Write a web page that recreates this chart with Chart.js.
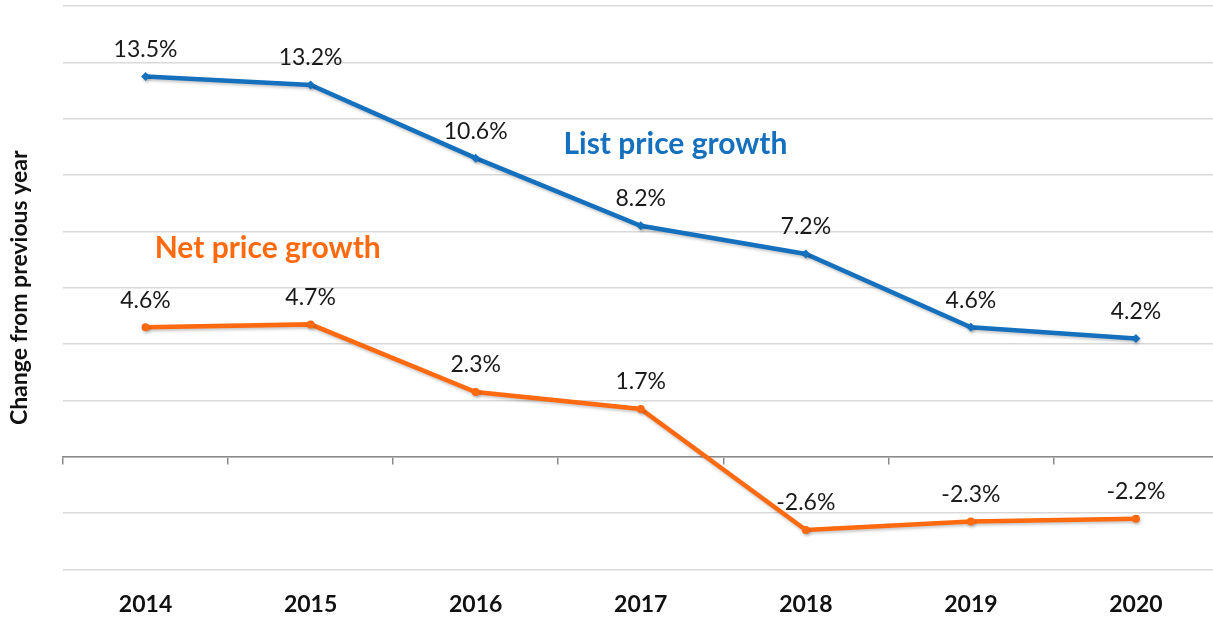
<!DOCTYPE html>
<html>
<head>
<meta charset="utf-8">
<script src="https://cdn.jsdelivr.net/npm/chart.js@4/dist/chart.umd.min.js"></script>
<style>
  html, body { margin: 0; padding: 0; background: #fff; overflow: hidden; }
  #wrap { width: 1213px; height: 620px; overflow: hidden; }
  canvas { display: block; }
</style>
</head>
<body>
<div id="wrap"><canvas id="c" width="1223" height="620"></canvas></div>
<script>
const years = ['2014', '2015', '2016', '2017', '2018', '2019', '2020'];
const listPriceGrowth = [13.5, 13.2, 10.6, 8.2, 7.2, 4.6, 4.2];
const netPriceGrowth = [4.6, 4.7, 2.3, 1.7, -2.6, -2.3, -2.2];
const yTitle = 'Change from previous year';
const seriesNames = ['List price growth', 'Net price growth'];

const BLUE = '#1570BE';
const ORANGE = '#FF6A10';
const FONT = 'Lato, "Open Sans", sans-serif';

const shadowPlugin = {
  id: 'shadow',
  beforeDatasetDraw(chart) {
    const ctx = chart.ctx;
    ctx.save();
    ctx.shadowColor = 'rgba(0,0,0,0.22)';
    ctx.shadowBlur = 3;
    ctx.shadowOffsetX = 1;
    ctx.shadowOffsetY = 2;
  },
  afterDatasetDraw(chart) { chart.ctx.restore(); }
};

const labelPlugin = {
  id: 'valueLabels',
  afterDatasetsDraw(chart) {
    const ctx = chart.ctx;
    ctx.save();
    ctx.font = '23px ' + FONT;
    ctx.fillStyle = '#1a1a1a';
    ctx.textAlign = 'center';
    ctx.textBaseline = 'middle';
    chart.data.datasets.forEach((ds, i) => {
      const meta = chart.getDatasetMeta(i);
      meta.data.forEach((pt, j) => {
        ctx.fillText(ds.data[j].toFixed(1) + '%', pt.x, pt.y - 27);
      });
    });
    // series annotations
    const xs = chart.scales.x, ys = chart.scales.y;
    ctx.font = 'bold 30px ' + FONT;
    ctx.fillStyle = BLUE;
    ctx.fillText(seriesNames[0], xs.getPixelForValue(3.21), ys.getPixelForValue(11.1));
    ctx.fillStyle = ORANGE;
    ctx.fillText(seriesNames[1], xs.getPixelForValue(0.74), ys.getPixelForValue(7.4));
    ctx.restore();
  }
};

new Chart(document.getElementById('c'), {
  type: 'line',
  data: {
    labels: years,
    datasets: [
      {
        label: seriesNames[0],
        data: listPriceGrowth,
        borderColor: BLUE,
        backgroundColor: BLUE,
        borderWidth: 4.5,
        pointStyle: 'rectRot',
        pointRadius: 4.5,
        pointBorderWidth: 0,
        tension: 0
      },
      {
        label: seriesNames[1],
        data: netPriceGrowth,
        borderColor: ORANGE,
        backgroundColor: ORANGE,
        borderWidth: 4.5,
        pointStyle: 'circle',
        pointRadius: 4,
        pointBorderWidth: 0,
        tension: 0
      }
    ]
  },
  options: {
    responsive: false,
    animation: false,
    layout: { padding: { top: 6, bottom: 3.5, left: 0, right: 0 } },
    plugins: {
      legend: { display: false },
      tooltip: { enabled: false }
    },
    scales: {
      x: {
        type: 'category',
        position: 'bottom',
        offset: true,
        grid: { display: false, drawTicks: false },
        border: { display: false },
        ticks: {
          padding: 22,
          color: '#111',
          font: { family: FONT, size: 23, weight: 'bold', lineHeight: 1.1 }
        },
        afterFit(scale) { scale.height = 47; }
      },
      x2: {
        type: 'category',
        labels: years,
        position: { y: 0 },
        offset: true,
        grid: {
          display: true,
          offset: true,
          drawOnChartArea: false,
          drawTicks: true,
          tickLength: 7,
          color: '#8a8a8a',
          lineWidth: 1.5
        },
        border: { display: true, color: '#8a8a8a', width: 1.5 },
        ticks: { display: false },
        afterFit(scale) { scale.height = 0; }
      },
      y: {
        min: -4,
        max: 16,
        ticks: { stepSize: 2, display: false },
        grid: { color: '#D9D9D9', lineWidth: 1.5, drawTicks: false },
        border: { display: false },
        title: {
          display: true,
          text: yTitle,
          color: '#111',
          font: { family: FONT, size: 23, weight: 'bold', lineHeight: 1.2 },
          padding: { top: 6, bottom: 0 }
        },
        afterFit(scale) { scale.width = 63; }
      }
    }
  },
  plugins: [shadowPlugin, labelPlugin]
});
</script>
</body>
</html>
